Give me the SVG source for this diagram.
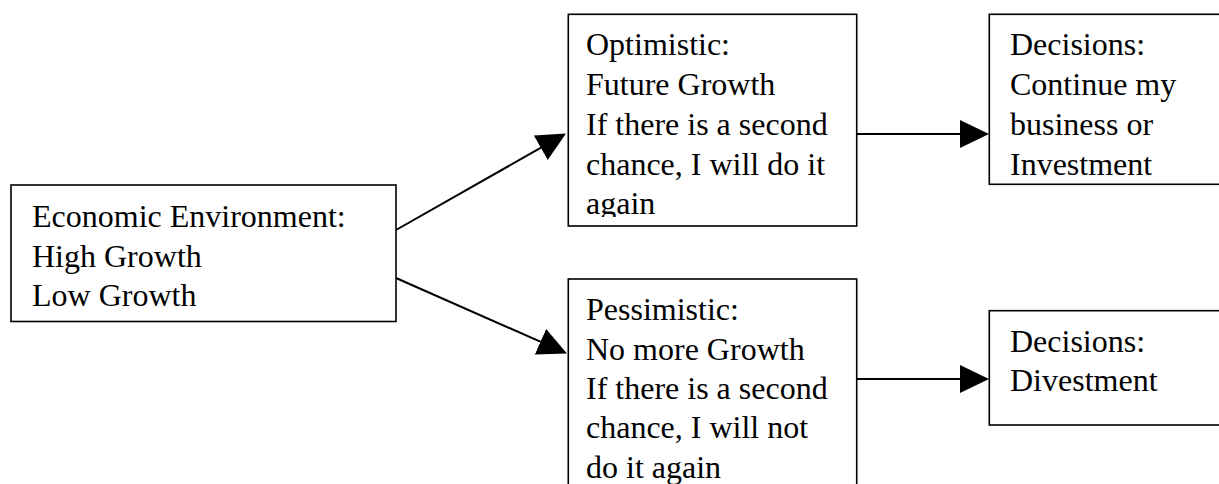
<svg xmlns="http://www.w3.org/2000/svg" width="1219" height="484" viewBox="0 0 1219 484">
  <style>
    .box { fill: #ffffff; stroke: #000000; stroke-width: 1.6; }
    .lbl { font-family: "Liberation Serif", "Times New Roman", serif; font-size: 32px; fill: #000000; }
    .conn { stroke: #000000; stroke-width: 2; fill: none; marker-end: url(#arrow); }
  </style>
  <defs>
    <marker id="arrow" markerUnits="userSpaceOnUse" markerWidth="30" markerHeight="30" refX="19" refY="14" orient="auto" viewBox="0 0 30 30">
      <path d="M0,0 L29,14 L0,28 Z" fill="#000000"/>
    </marker>
    <clipPath id="clipOpt">
      <rect x="568" y="14" width="289" height="203"/>
    </clipPath>
  </defs>
  <rect width="1219" height="484" fill="#ffffff"/>

  <g id="connectors">
    <line class="conn" x1="396" y1="230" x2="557.3" y2="138.4"/>
    <line class="conn" x1="396" y1="278" x2="557.85" y2="349.46"/>
    <line class="conn" x1="857" y1="134" x2="979" y2="134"/>
    <line class="conn" x1="857" y1="379" x2="979" y2="379"/>
  </g>

  <g id="node-economic">
    <rect class="box" x="11" y="185" width="385" height="136.5"/>
    <text class="lbl" x="32" y="227">Economic Environment:</text>
    <text class="lbl" x="32" y="266.5">High Growth</text>
    <text class="lbl" x="32" y="306">Low Growth</text>
  </g>

  <g id="node-optimistic">
    <rect class="box" x="568.3" y="14.3" width="288.4" height="211.7"/>
    <g clip-path="url(#clipOpt)">
      <text class="lbl" x="586" y="55">Optimistic:</text>
      <text class="lbl" x="586" y="95">Future Growth</text>
      <text class="lbl" x="586" y="135">If there is a second</text>
      <text class="lbl" x="586" y="175">chance, I will do it</text>
      <text class="lbl" x="586" y="214">again</text>
    </g>
  </g>

  <g id="node-pessimistic">
    <rect class="box" x="568.3" y="279" width="288.4" height="220"/>
    <text class="lbl" x="586" y="320">Pessimistic:</text>
    <text class="lbl" x="586" y="359.5">No more Growth</text>
    <text class="lbl" x="586" y="398.5">If there is a second</text>
    <text class="lbl" x="586" y="438">chance, I will not</text>
    <text class="lbl" x="586" y="477.5">do it again</text>
  </g>

  <g id="node-decision-continue">
    <rect class="box" x="989.3" y="14.3" width="250" height="170"/>
    <text class="lbl" x="1010" y="55">Decisions:</text>
    <text class="lbl" x="1010" y="95">Continue my</text>
    <text class="lbl" x="1010" y="135">business or</text>
    <text class="lbl" x="1010" y="175">Investment</text>
  </g>

  <g id="node-decision-divest">
    <rect class="box" x="989.3" y="310.7" width="250" height="114.3"/>
    <text class="lbl" x="1010" y="351.5">Decisions:</text>
    <text class="lbl" x="1010" y="391">Divestment</text>
  </g>
</svg>
